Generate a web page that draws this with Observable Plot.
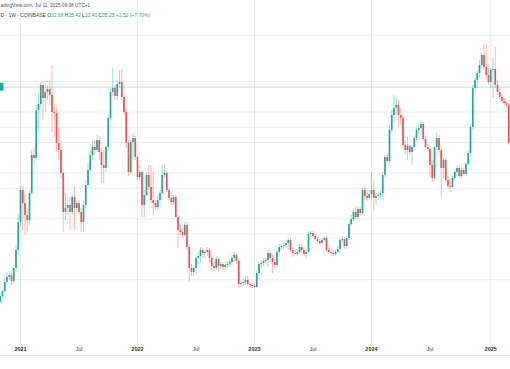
<!DOCTYPE html>
<html><head><meta charset="utf-8">
<script src="https://cdn.jsdelivr.net/npm/d3@7"></script>
<script src="https://cdn.jsdelivr.net/npm/@observablehq/plot@0.6"></script>
<style>body{margin:0;background:#fff} svg{display:block}</style>
</head><body><div id="chart"></div>
<script>
// Weekly candles, first bar = week of 2020-11-02
const firstOpen = 7.02;
const closes = [7.80,8.46,9.64,10.30,10.56,9.77,11.48,13.84,17.51,
21.70,20.00,18.43,17.77,21.31,26.30,25.90,32.20,32.98,35.48,33.77,34.56,34.95,34.16,31.93,31.80,27.87,26.95,23.93,18.82,
19.34,19.74,18.82,20.79,19.34,20.00,18.82,17.51,19.74,22.36,24.33,26.30,27.34,26.95,28.26,26.69,24.98,24.59,27.34,31.15,
34.56,35.08,34.03,35.61,35.87,33.90,31.93,27.87,24.07,28.00,28.52,26.03,23.41,24.07,19.74,21.05,23.67,22.10,20.39,20.00,
19.48,20.39,21.31,23.67,23.93,21.70,20.66,20.13,20.79,18.16,16.46,16.20,15.80,17.11,14.23,11.48,10.95,11.48,12.79,13.05,
13.84,13.44,13.57,13.84,12.79,11.74,11.48,12.66,11.74,12.00,11.61,11.87,12.00,12.26,12.79,13.18,12.39,9.38,9.51,9.64,
9.90,9.38,9.25,9.11,8.98,10.82,12.00,12.13,12.39,12.52,13.44,12.79,12.26,11.87,13.57,14.23,14.36,14.49,14.75,15.15,
13.84,13.44,13.31,13.57,14.23,13.84,13.31,13.57,15.93,16.07,15.67,15.28,15.02,14.75,15.15,15.41,13.84,13.57,13.44,13.31,
13.57,13.97,15.15,15.28,14.36,15.41,17.25,17.90,18.82,18.16,19.21,18.69,21.70,20.92,20.66,21.18,21.70,20.66,20.92,21.05,
21.31,23.67,26.03,25.51,29.57,31.54,32.46,32.85,31.54,31.15,27.61,26.95,27.48,26.69,27.34,28.52,29.57,29.84,30.36,28.39,
27.34,27.08,24.98,23.28,27.34,28.52,26.95,24.59,25.64,23.02,22.23,22.10,23.28,24.07,24.59,23.54,24.33,23.80,25.11,26.56,
29.97,35.08,36.13,37.05,38.10,39.41,37.84,36.79,35.87,37.44,37.57,35.48,34.56,33.90,33.38,33.11,32.85,27.87];
const highs = [8.20,8.72,10.16,10.95,11.08,10.95,11.87,14.49,18.43,
22.36,22.23,21.05,19.34,21.70,26.95,27.21,32.85,34.43,35.87,35.87,35.61,35.48,36.13,38.10,32.85,32.46,29.84,28.26,24.33,
21.31,20.39,20.79,21.05,22.10,20.39,20.39,19.34,20.39,23.02,25.25,26.95,28.00,28.26,28.92,28.79,27.21,26.95,27.61,31.54,
35.08,37.71,35.48,36.13,37.44,37.57,34.16,32.46,28.26,28.26,29.18,28.79,26.30,24.98,24.33,21.70,24.07,24.98,24.98,24.07,
20.39,21.05,21.70,24.98,24.98,24.33,21.97,21.44,21.05,21.05,18.43,17.11,16.72,17.51,17.51,14.49,12.00,11.87,13.18,13.57,
14.23,14.10,13.97,14.23,14.10,13.18,12.26,13.05,12.92,12.26,12.26,12.26,12.39,12.52,13.18,13.57,13.44,12.66,9.90,10.03,
10.30,10.43,9.64,9.51,9.38,11.08,12.26,12.52,12.79,12.92,13.84,13.84,13.18,12.66,13.84,14.62,14.62,14.75,15.15,15.41,
15.41,14.23,13.84,13.97,14.62,14.62,14.23,13.97,16.20,16.33,16.33,15.93,15.54,15.28,15.54,15.67,15.67,14.23,13.84,13.84,
13.84,14.36,15.41,15.67,15.54,15.67,17.51,18.43,19.34,19.61,19.61,19.48,22.10,22.23,21.70,21.70,24.07,23.02,21.31,21.44,
21.70,24.07,26.30,26.56,30.23,32.20,34.16,33.90,33.51,32.46,31.54,28.26,28.66,27.74,27.61,28.79,29.97,30.23,30.89,30.62,
28.79,27.74,27.48,25.64,27.61,29.18,28.92,27.21,25.90,25.90,23.54,23.28,23.54,24.33,24.98,24.98,24.72,24.59,25.38,26.95,
30.23,35.48,36.52,37.44,38.75,39.80,40.85,40.85,37.71,37.71,39.15,40.46,36.13,35.08,34.30,33.77,33.38,33.11];
const lows = [6.88,7.54,8.20,9.38,9.90,9.25,9.51,10.95,13.18,
16.98,16.46,15.80,16.07,17.11,21.05,24.98,25.64,29.31,32.46,30.89,31.93,33.51,32.85,29.31,28.66,26.69,25.64,23.28,16.20,
17.77,18.43,16.46,18.43,16.46,18.82,18.43,16.20,16.20,19.34,21.97,24.07,25.64,26.30,26.69,25.64,22.62,22.62,24.07,26.95,
30.89,34.03,33.51,33.51,35.08,33.51,31.54,27.21,23.54,23.80,25.64,25.64,23.02,23.02,18.16,18.16,20.79,21.70,20.00,18.43,
19.08,19.08,19.34,21.05,23.28,21.44,20.39,19.74,19.74,18.03,14.10,15.80,15.41,15.54,13.84,9.64,10.43,10.43,10.69,12.00,
12.13,12.79,12.79,13.05,12.26,11.21,11.08,11.21,10.95,11.34,11.21,11.21,11.48,11.61,11.87,12.26,12.00,8.85,8.98,9.11,
9.25,9.11,8.98,8.85,8.85,8.85,10.56,11.48,11.74,11.87,11.61,12.26,10.82,11.48,11.61,13.31,13.84,13.84,14.10,13.84,
13.57,12.92,13.05,13.05,13.31,13.44,13.05,12.79,13.31,15.54,15.41,15.02,14.75,14.62,14.62,14.89,13.57,13.31,13.18,13.05,
13.05,13.31,13.57,14.75,13.97,13.97,15.15,16.98,17.64,17.90,17.90,18.30,18.43,20.39,20.26,20.39,20.39,19.08,19.74,20.39,
20.66,20.79,23.41,25.25,25.25,29.18,30.62,31.54,29.97,30.23,26.95,26.30,25.64,26.30,24.98,26.95,28.26,29.05,28.92,28.13,
27.08,26.82,23.28,22.75,23.02,26.95,26.56,20.79,23.28,22.75,21.97,21.44,21.84,23.02,23.54,23.28,23.28,23.54,23.54,24.85,
26.16,29.57,34.56,35.08,36.39,37.71,37.44,36.39,35.48,35.08,33.77,35.08,34.16,33.64,33.11,32.85,32.59,27.61];

const yearTicks = ["2021-01-04","2022-01-03","2023-01-02","2024-01-01","2025-01-06"];
const yearLabels = ["2021","2022","2023","2024","2025"];
const julTicks = ["2021-07-05","2022-07-04","2023-07-03","2024-07-01"];
const julLabels = ["Jul","Jul","Jul","Jul"];
const gridPrices = [42,36,32,30,28,24,22,18,16,10];
const lastPrice = 35.25;
const header1 = "adingView.com, Jul 11, 2025 09:08 UTC+1";
const symbolText = "D · 1W · COINBASE";
const ohlcLabels = ["O","H","L","C"];
const ohlcValues = ["32.68","35.42","32.41","35.25"];
const changeText = "+2.52 (+7.70%)";

const up = "#26a69a", down = "#ef5350";
const start = new Date(Date.UTC(2020, 10, 2));
const bars = closes.map((c, i) => ({
  date: d3.utcMonday.offset(start, i),
  open: i ? closes[i - 1] : firstOpen,
  close: c, high: highs[i], low: lows[i]
}));
const color = d => d.close >= d.open ? up : down;
const yDates = yearTicks.map(d => new Date(d + "T00:00Z"));
const jDates = julTicks.map(d => new Date(d + "T00:00Z"));
const yMap = new Map(yDates.map((d, i) => [+d, yearLabels[i]]));
const jMap = new Map(jDates.map((d, i) => [+d, julLabels[i]]));

const W = 7 * 864e5, jan4 = Date.UTC(2021, 0, 4);
const plot = Plot.plot({
  width: 510, height: 369,
  marginTop: 0, marginRight: 0, marginLeft: 0, marginBottom: 26,
  style: {fontFamily: "'Liberation Sans', Arial, sans-serif", background: "#fff"},
  x: {type: "utc", domain: [new Date(jan4 - 8.889 * W), new Date(jan4 + 217.78 * W)], axis: null},
  y: {domain: [1.64, 46.62], axis: null},
  marks: [
    Plot.ruleY(gridPrices, {stroke: "#eeeeee"}),
    Plot.ruleX(yDates, {stroke: "#ececec"}),
    Plot.ruleY([lastPrice], {stroke: up, strokeOpacity: 0.3}),
    Plot.ruleX(bars, {x: "date", y1: "low", y2: "high", stroke: color, strokeOpacity: 0.4, strokeWidth: 1}),
    Plot.ruleX(bars, {x: "date", y1: "open", y2: "close", stroke: color, strokeWidth: 1.7}),
    Plot.axisX(yDates, {tickSize: 0, tickPadding: 4, tickFormat: d => yMap.get(+d), fontSize: 5.5, fontWeight: "bold", fill: "#333"}),
    Plot.axisX(jDates, {tickSize: 0, tickPadding: 4, tickFormat: d => jMap.get(+d), fontSize: 5.5, fill: "#444"})
  ]
});
document.getElementById("chart").appendChild(plot);

const svg = d3.select(plot);
const yS = plot.scale("y");
const yp = yS.apply(lastPrice);
svg.append("rect").attr("x", 0).attr("y", yp - 4).attr("width", 3.5).attr("height", 8).attr("fill", up);
svg.append("line").attr("x1", 0).attr("x2", 510).attr("y1", 355.5).attr("y2", 355.5).attr("stroke", "#eaeaea");
svg.append("text").attr("x", 0.5).attr("y", 5.8).attr("dominant-baseline", "middle").attr("text-anchor", "start")
  .attr("font-size", 4.75).attr("fill", "#555").text(header1);
const t2 = svg.append("text").attr("x", 0.5).attr("y", 15.8).attr("dominant-baseline", "middle").attr("text-anchor", "start")
  .attr("font-size", 4.95).attr("fill", "#444");
t2.append("tspan").text(symbolText + " ");
ohlcLabels.forEach((l, i) => {
  t2.append("tspan").attr("fill", "#444").text(l);
  t2.append("tspan").attr("fill", up).text(ohlcValues[i] + " ");
});
t2.append("tspan").attr("fill", up).text(changeText);
</script></body></html>
